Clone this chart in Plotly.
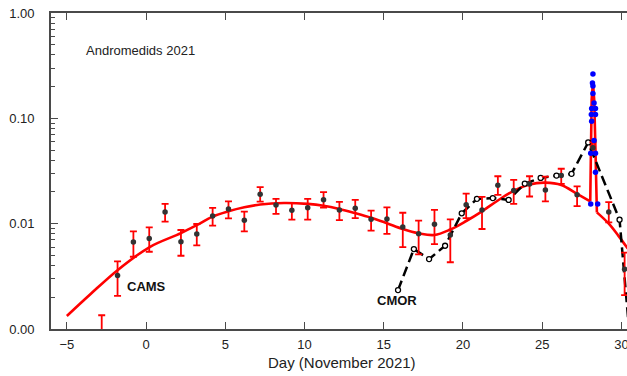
import plotly.graph_objects as go

# ---------------- data ----------------
# CAMS rates (black dots) with red error bars (lower / upper limits)
cams_days = [-2.8, -1.8, -0.8, 0.2, 1.2, 2.2, 3.2, 4.2, 5.2, 6.2, 7.2, 8.2, 9.2, 10.2,
             11.2, 12.2, 13.2, 14.2, 15.2, 16.2, 17.2, 18.2, 19.2, 20.2, 21.2, 22.2,
             23.2, 24.2, 25.2, 26.2, 27.2, 28.2, 29.2, 30.2]
cams_vals = [0.0007, 0.00322, 0.00669, 0.00724, 0.0129, 0.00674, 0.00798, 0.0118, 0.0138,
             0.0108, 0.0190, 0.0150, 0.0134, 0.0142, 0.0169, 0.0135, 0.0140, 0.0110,
             0.0111, 0.0093, 0.0080, 0.0099, 0.0078, 0.0151, 0.0135, 0.0231, 0.0206,
             0.0238, 0.0209, 0.0286, 0.0188, 0.0526, 0.0129, 0.0037]
cams_lo = [0.0004, 0.00206, 0.00485, 0.00541, 0.01045, 0.00496, 0.00622, 0.00957, 0.01124,
           0.00845, 0.0162, 0.0124, 0.0109, 0.0109, 0.0142, 0.0108, 0.0113, 0.00858,
           0.0080, 0.0060, 0.0051, 0.0064, 0.0043, 0.0113, 0.0089, 0.0188, 0.0154,
           0.0181, 0.0163, 0.0239, 0.0147, 0.047, 0.0103, 0.0021]
cams_hi = [0.00135, 0.00438, 0.00845, 0.00922, 0.0154, 0.00871, 0.00993, 0.0141, 0.0163,
           0.0130, 0.0222, 0.0172, 0.0157, 0.0172, 0.0199, 0.0161, 0.0168, 0.0133,
           0.0143, 0.0127, 0.0107, 0.0135, 0.0110, 0.0193, 0.0180, 0.0282, 0.0261,
           0.0282, 0.0280, 0.0332, 0.0226, 0.059, 0.0160, 0.0053]

# CMOR rates (open circles, dashed line)
cmor_days = [15.9, 16.9, 17.86, 18.87, 19.92, 20.88, 21.88, 22.88, 23.9, 24.9, 25.9,
             26.85, 27.9, 29.88, 30.88]
cmor_vals = [0.00234, 0.00574, 0.00461, 0.00617, 0.01254, 0.0172, 0.0175, 0.0168, 0.0240,
             0.0272, 0.0286, 0.0297, 0.0590, 0.0109, 0.0002]

# High-resolution outburst data (blue dots)
blue_days = [28.06, 28.06, 28.10, 28.12, 28.12, 28.17, 28.20, 28.20, 28.20, 28.27, 28.27,
             28.36, 28.36, 28.36, 28.36, 28.50]
blue_vals = [0.0154, 0.0467, 0.109, 0.0936, 0.124, 0.217, 0.264, 0.203, 0.172, 0.140,
             0.0617, 0.124, 0.109, 0.0467, 0.0308, 0.0154]

# Model curve (red): smooth background, narrow outburst spike, tail
model_days = [-5.0, -3.5, -1.8, 0.2, 2.2, 3.2, 4.2, 5.2, 6.2, 7.2, 8.7, 10.2, 11.2, 12.2,
              13.2, 14.2, 15.2, 16.2, 17.2, 18.2, 19.2, 20.2, 21.2, 22.2, 23.2, 24.2,
              25.2, 26.2, 27.2, 28.03]
model_vals = [0.00133, 0.00215, 0.00362, 0.00597, 0.00812, 0.00968, 0.01167, 0.0131,
              0.0143, 0.0152, 0.0157, 0.0154, 0.0148, 0.0138, 0.0126, 0.0114, 0.0101,
              0.0089, 0.0081, 0.0078, 0.0088, 0.0106, 0.0131, 0.0166, 0.0205, 0.0236,
              0.0245, 0.0233, 0.0192, 0.0163]
spike_days = [28.03, 28.08, 28.12, 28.2, 28.28, 28.36, 28.42, 28.45]
spike_vals = [0.0163, 0.05, 0.15, 0.22, 0.15, 0.05, 0.0155, 0.0128]
tail_days = [28.45, 29.2, 29.8, 30.4]
tail_vals = [0.0128, 0.0100, 0.0077, 0.0058]

x_ticks = [-5, 0, 5, 10, 15, 20, 25, 30]
x_range = [-6, 30.35]
y_ticks = [0.001, 0.01, 0.1, 1.0]
y_ticktext = ["0.00", "0.01", "0.10", "1.00"]
y_minor = [m * d for d in (0.001, 0.01, 0.1) for m in range(2, 10)]

# ---------------- figure ----------------
FONT = "Liberation Sans, Arial, sans-serif"
RED = "#ff0000"
AX = "#4a4a4a"

fig = go.Figure()

fig.add_trace(go.Scatter(x=model_days, y=model_vals, mode="lines",
                         line=dict(color=RED, width=2.6, shape="spline", smoothing=1.0),
                         hoverinfo="skip", showlegend=False))
fig.add_trace(go.Scatter(x=spike_days, y=spike_vals, mode="lines",
                         line=dict(color=RED, width=2.6), hoverinfo="skip", showlegend=False))
fig.add_trace(go.Scatter(x=tail_days, y=tail_vals, mode="lines",
                         line=dict(color=RED, width=2.6, shape="spline"),
                         hoverinfo="skip", showlegend=False))

fig.add_trace(go.Scatter(x=cmor_days, y=cmor_vals, mode="lines+markers",
                         line=dict(color="black", width=2.5, dash="10px,5px"),
                         marker=dict(symbol="circle", size=5, color="white",
                                     line=dict(color="black", width=1.3)),
                         showlegend=False))

err_plus = [h - v for h, v in zip(cams_hi, cams_vals)]
err_minus = [v - l for v, l in zip(cams_vals, cams_lo)]
fig.add_trace(go.Scatter(x=cams_days, y=cams_vals, mode="markers",
                         marker=dict(color="#333333", size=5.5),
                         error_y=dict(type="data", symmetric=False, array=err_plus,
                                      arrayminus=err_minus, color=RED, thickness=1.8,
                                      width=3.5),
                         showlegend=False))

fig.add_trace(go.Scatter(x=blue_days, y=blue_vals, mode="markers",
                         marker=dict(color="#0000ff", size=5.5), showlegend=False))

fig.update_layout(
    width=627, height=376,
    margin=dict(l=51, r=0, t=13, b=47, pad=0),
    paper_bgcolor="white", plot_bgcolor="white",
    font=dict(family=FONT, size=12.5, color="#222222"),
    showlegend=False,
    xaxis=dict(range=x_range, tickmode="array", tickvals=x_ticks,
               ticks="inside", ticklen=7, tickwidth=1.3, tickcolor=AX,
               showline=True, linecolor=AX, linewidth=1.6, mirror="ticks",
               showgrid=False, zeroline=False, automargin=False,
               ticklabelstandoff=3, ticklabeloverflow="allow",
               tickfont=dict(family=FONT, size=13, color="#222222")),
    yaxis=dict(type="log", range=[-3, 0], tickmode="array", tickvals=y_ticks,
               ticktext=y_ticktext, ticks="inside", ticklen=7, tickwidth=1.3,
               tickcolor=AX, showline=True, linecolor=AX, linewidth=1.6,
               showgrid=False, zeroline=False, automargin=False,
               ticklabelstandoff=12, ticklabeloverflow="allow",
               minor=dict(tickmode="array", tickvals=y_minor, ticks="inside",
                          ticklen=4, tickwidth=1.1, tickcolor=AX, showgrid=False),
               tickfont=dict(family=FONT, size=13, color="#222222")),
)

fig.add_annotation(text="Andromedids 2021", xref="paper", yref="paper",
                   x=0.057, y=0.881, xanchor="left", yanchor="middle", showarrow=False,
                   font=dict(family=FONT, size=13, color="#222222"))
fig.add_annotation(text="<b>CAMS</b>", xref="paper", yref="paper",
                   x=0.128, y=0.136, xanchor="left", yanchor="middle", showarrow=False,
                   font=dict(family=FONT, size=13, color="#111111"))
fig.add_annotation(text="<b>CMOR</b>", xref="paper", yref="paper",
                   x=0.563, y=0.0896, xanchor="left", yanchor="middle", showarrow=False,
                   font=dict(family=FONT, size=13, color="#111111"))
fig.add_annotation(text="Day (November 2021)", xref="paper", yref="paper",
                   x=0.505, y=-0.1066, xanchor="center", yanchor="middle", showarrow=False,
                   font=dict(family=FONT, size=15, color="#222222"))

# no mode bar (it covered the top frame line); remove the default 8px page margin
fig.write_html("out.html",
               config={"displayModeBar": False},
               post_script="document.body.style.margin='0px';"
                           "document.body.style.overflow='hidden';")
